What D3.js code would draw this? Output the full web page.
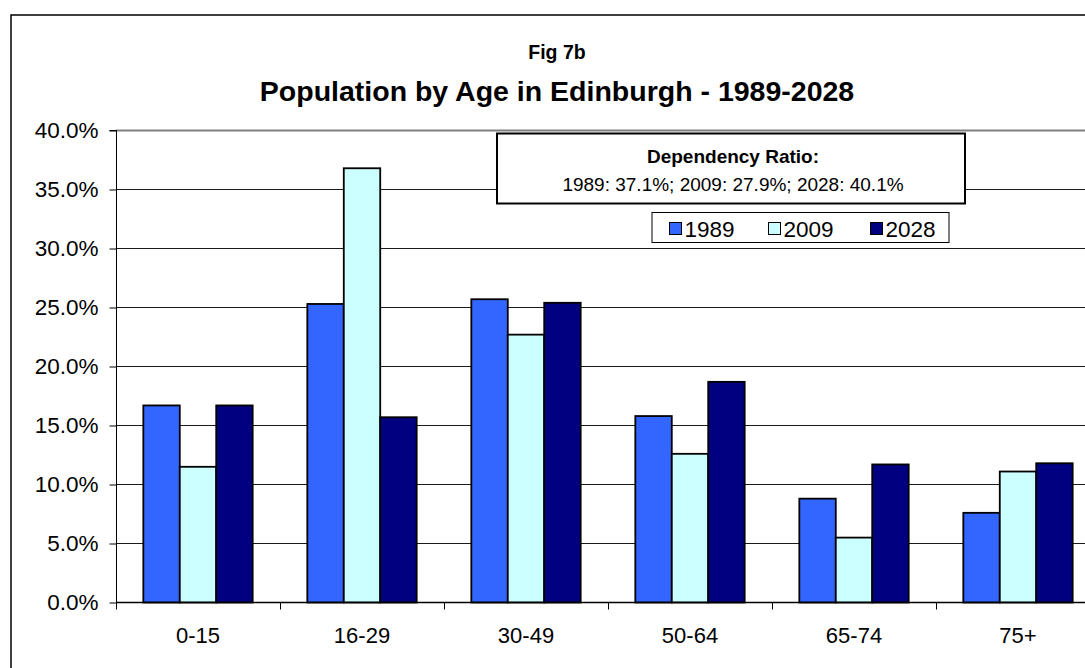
<!DOCTYPE html>
<html>
<head>
<meta charset="utf-8">
<script src="https://cdn.jsdelivr.net/npm/d3@7/dist/d3.min.js"></script>
<style>
  html, body { margin: 0; padding: 0; background: #fff; }
  svg { display: block; font-family: "Liberation Sans", Arial, sans-serif; }
</style>
</head>
<body>
<svg id="chart" width="1085" height="668"></svg>
<script>
// ---- data ----
const categories = ["0-15", "16-29", "30-49", "50-64", "65-74", "75+"];
const seriesNames = ["1989", "2009", "2028"];
const values1989 = [16.7, 25.3, 25.7, 15.8, 8.8, 7.6];
const values2009 = [11.5, 36.8, 22.7, 12.6, 5.5, 11.1];
const values2028 = [16.7, 15.7, 25.4, 18.7, 11.7, 11.8];
const yTicks = [0, 5, 10, 15, 20, 25, 30, 35, 40];
const colors = ["#3366FF", "#CCFFFF", "#000080"];
const titleSmall = "Fig 7b";
const titleMain = "Population by Age in Edinburgh - 1989-2028";
const boxTitle = "Dependency Ratio:";
const boxText = "1989: 37.1%; 2009: 27.9%; 2028: 40.1%";

const seriesValues = [values1989, values2009, values2028];

const svg = d3.select("#chart");

// chart frame (extends beyond the visible area right and bottom)
svg.append("rect")
  .attr("x", 11).attr("y", 15)
  .attr("width", 1200).attr("height", 800)
  .attr("fill", "#fff").attr("stroke", "#000").attr("stroke-width", 1.5);

// titles
svg.append("text").attr("x", 557).attr("y", 59)
  .attr("text-anchor", "middle").attr("font-weight", "bold").attr("font-size", 19.5)
  .text(titleSmall);
svg.append("text").attr("x", 557).attr("y", 101)
  .attr("text-anchor", "middle").attr("font-weight", "bold").attr("font-size", 28.5)
  .text(titleMain);

// scales
const x0 = d3.scaleBand().domain(categories).range([116, 1100]).paddingInner(0).paddingOuter(0);
const x1 = d3.scaleBand().domain(seriesNames).range([0, x0.bandwidth()]).paddingInner(0).paddingOuter(0.75);
const y = d3.scaleLinear().domain([0, 40]).range([602.5, 130.5]);

// gridlines
svg.append("g").selectAll("line").data(yTicks.filter(t => t > 0 && t < 40)).join("line")
  .attr("x1", 116).attr("x2", 1100)
  .attr("y1", d => y(d)).attr("y2", d => y(d))
  .attr("stroke", "#1a1a1a").attr("stroke-width", 1);

// plot area top border (grey)
svg.append("line").attr("x1", 116).attr("x2", 1100)
  .attr("y1", y(40)).attr("y2", y(40))
  .attr("stroke", "#808080").attr("stroke-width", 2);

// bars
const groups = svg.append("g").selectAll("g").data(categories).join("g")
  .attr("transform", d => `translate(${x0(d)},0)`);
groups.selectAll("rect")
  .data((c, i) => seriesNames.map((s, j) => ({ s, j, v: seriesValues[j][i] })))
  .join("rect")
  .attr("x", d => x1(d.s))
  .attr("width", x1.bandwidth())
  .attr("y", d => y(d.v))
  .attr("height", d => y(0) - y(d.v))
  .attr("fill", d => colors[d.j])
  .attr("stroke", "#000").attr("stroke-width", 1.8);

// y axis
const yAxis = d3.axisLeft(y).tickValues(yTicks).tickFormat(d => d3.format(".1f")(d) + "%")
  .tickSize(7).tickPadding(11);
const yg = svg.append("g").attr("transform", "translate(116.5,0)").call(yAxis);
yg.select(".domain").attr("stroke", "#000").attr("d", `M-7,${y(40)}H0V${y(0)}`);
yg.selectAll(".tick line").attr("stroke", "#000");
yg.selectAll(".tick text").attr("font-size", 22.5).attr("fill", "#000")
  .attr("font-family", "Liberation Sans, Arial, sans-serif").attr("dy", "0.33em");

// x axis
const xAxis = d3.axisBottom(x0).tickSize(0).tickPadding(0);
const xg = svg.append("g").attr("transform", `translate(0,${y(0)})`).call(xAxis);
xg.select(".domain").attr("stroke", "#000").attr("stroke-width", 1.5).attr("d", `M116,0H1100`);
xg.selectAll(".tick text").attr("font-size", 22).attr("fill", "#000")
  .attr("font-family", "Liberation Sans, Arial, sans-serif").attr("y", 40).attr("dy", 0);
// category boundary ticks
xg.append("g").selectAll("line").data(categories).join("line")
  .attr("x1", d => x0(d) + 0.5).attr("x2", d => x0(d) + 0.5)
  .attr("y1", 0).attr("y2", 7).attr("stroke", "#000");

// dependency ratio box
svg.append("rect").attr("x", 497).attr("y", 133.5).attr("width", 468).attr("height", 70)
  .attr("fill", "#fff").attr("stroke", "#000").attr("stroke-width", 2);
svg.append("text").attr("x", 733).attr("y", 163).attr("text-anchor", "middle")
  .attr("font-weight", "bold").attr("font-size", 19).text(boxTitle);
svg.append("text").attr("x", 733).attr("y", 191).attr("text-anchor", "middle")
  .attr("font-size", 19).text(boxText);

// legend
svg.append("rect").attr("x", 652).attr("y", 212.5).attr("width", 297).attr("height", 30)
  .attr("fill", "#fff").attr("stroke", "#000").attr("stroke-width", 1);
const legendX = [669.5, 768.5, 870.5];
const leg = svg.append("g").selectAll("g").data(seriesNames).join("g")
  .attr("transform", (d, i) => `translate(${legendX[i]},222.5)`);
leg.append("rect").attr("width", 12).attr("height", 12)
  .attr("fill", (d, i) => colors[i]).attr("stroke", "#000").attr("stroke-width", 1);
leg.append("text").attr("x", 15).attr("y", 14).attr("font-size", 22.5).text(d => d);
</script>
</body>
</html>
